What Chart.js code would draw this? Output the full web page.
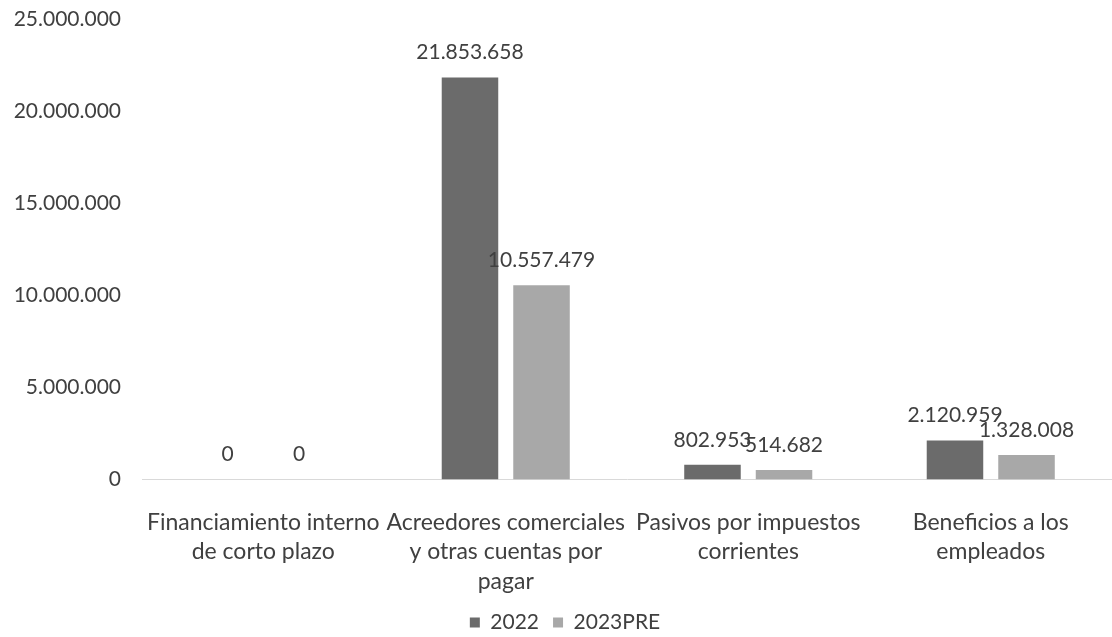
<!DOCTYPE html>
<html lang="es">
<head>
  <meta charset="UTF-8">
  <title>Pasivos corrientes 2022 - 2023PRE</title>
  <script src="https://cdn.jsdelivr.net/npm/chart.js"></script>
  <style>
    html, body { margin: 0; padding: 0; background: #fff; }
    .chart-container { width: 1112px; height: 637px; position: relative; }
  </style>
</head>
<body>
  <div class="chart-container">
    <canvas id="pasivosChart"></canvas>
  </div>
  <script>
    // datos
    const categorias = [
      ['Financiamiento interno', 'de corto plazo'],
      ['Acreedores comerciales', 'y otras cuentas por', 'pagar'],
      ['Pasivos por impuestos', 'corrientes'],
      ['Beneficios a los', 'empleados']
    ];
    const series = ['2022', '2023PRE'];
    const valores2022 = [0, 21853658, 802953, 2120959];
    const valores2023 = [0, 10557479, 514682, 1328008];
    const ejeY = { min: 0, max: 25000000, paso: 5000000 };

    const textColor = '#404040';
    const fontFamily = 'Lato, "Noto Sans", sans-serif';

    function miles(v) {
      return String(Math.round(v)).replace(/\B(?=(\d{3})+(?!\d))/g, '.');
    }

    // etiquetas de valor encima de cada barra
    const etiquetas = {
      id: 'etiquetas',
      afterDatasetsDraw(chart) {
        const ctx = chart.ctx;
        ctx.save();
        ctx.fillStyle = textColor;
        ctx.font = '21px ' + fontFamily;
        ctx.textAlign = 'center';
        ctx.textBaseline = 'alphabetic';
        chart.data.datasets.forEach((ds, i) => {
          chart.getDatasetMeta(i).data.forEach((bar, j) => {
            ctx.fillText(miles(ds.data[j]), bar.x, bar.y - 18);
          });
        });
        ctx.restore();
      }
    };

    const config = {
      type: 'bar',
      data: {
        labels: categorias,
        datasets: [
          {
            label: series[0],
            data: valores2022,
            backgroundColor: '#6b6b6b',
            barPercentage: 0.79,
            categoryPercentage: 0.59
          },
          {
            label: series[1],
            data: valores2023,
            backgroundColor: '#a8a8a8',
            barPercentage: 0.79,
            categoryPercentage: 0.59
          }
        ]
      },
      options: {
        responsive: true,
        maintainAspectRatio: false,
        animation: false,
        layout: { padding: { left: 13, right: -5, top: 0, bottom: -6 } },
        plugins: {
          legend: {
            position: 'bottom',
            labels: {
              color: textColor,
              font: { family: fontFamily, size: 21 },
              boxWidth: 10,
              boxHeight: 10,
              padding: 14
            }
          },
          tooltip: { enabled: false }
        },
        scales: {
          x: {
            grid: { display: false, drawTicks: false },
            border: { display: true, color: '#d9d9d9', width: 1 },
            ticks: {
              color: textColor,
              font: { family: fontFamily, size: 23, lineHeight: 1.283 },
              maxRotation: 0,
              autoSkip: false,
              padding: 28
            },
            afterFit: scale => { scale.height -= 26; }
          },
          y: {
            min: ejeY.min,
            max: ejeY.max,
            grid: { display: false, drawTicks: false },
            border: { display: false },
            ticks: {
              stepSize: ejeY.paso,
              color: textColor,
              font: { family: fontFamily, size: 21 },
              padding: 21,
              callback: v => miles(v)
            },
            afterFit: scale => {
              scale.width = 129;
              scale.paddingTop = 19.5;
            }
          }
        }
      },
      plugins: [etiquetas]
    };

    new Chart(document.getElementById('pasivosChart'), config);
  </script>
</body>
</html>
